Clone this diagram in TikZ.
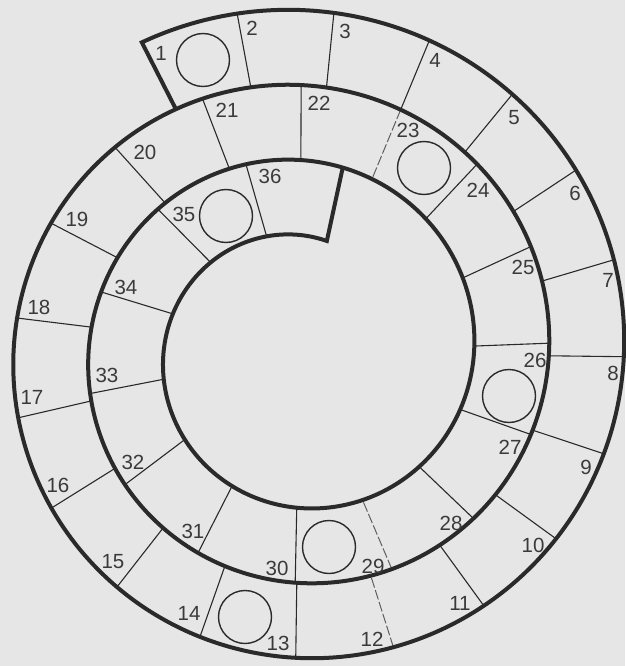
\documentclass[tikz,border=0pt]{standalone}
\usepackage{fontspec}
\setmainfont{Liberation Sans}
\definecolor{bg}{RGB}{230,230,231}
\definecolor{ink}{RGB}{42,42,42}
\definecolor{txt}{RGB}{58,58,58}
\begin{document}
\begin{tikzpicture}[x=1pt,y=-1pt,
  declare function={rr(\t)=342.75-0.2083333*\t; sx(\t)=300+rr(\t)*sin(\t); sy(\t)=352.75-rr(\t)*cos(\t);},
  thickline/.style={draw=ink, line width=4pt, line join=miter},
  divider/.style={draw=ink, line width=1.1pt},
  faint/.style={draw=ink!75, line width=1pt, dash pattern=on 10pt off 2.5pt},
  token/.style={circle, draw=ink, line width=1.4pt, minimum size=53pt, inner sep=0pt},
  lab/.style={text=txt, font=\fontsize{20.5}{20.5}\selectfont, inner sep=0pt}]
\fill[bg] (0,0) rectangle (625,666);
\useasboundingbox (0,0) rectangle (625,666);
% dividers
\foreach \a in {-10.5,5.7,22.5,39.4,56.5,73.5,90.7,108.4,126,144,180.8,199.4,218,238,257,277,297.5,318,339,360.25,403.2,425.3,447.8,469.5,493.7,541.2,567,593,619,647,675.3,704}
  \draw[divider] ({sx(\a)},{sy(\a)}) -- ({sx(\a+360)},{sy(\a+360)});
\foreach \a in {162.4,382.5,517}
  \draw[faint] ({sx(\a)},{sy(\a)}) -- ({sx(\a+360)},{sy(\a+360)});
% spiral with end caps
\draw[thickline] ({sx(333)},{sy(333)}) -- ({sx(-27)},{sy(-27)})
  -- plot[smooth, domain=-27:1093.5, samples=500, variable=\x] ({sx(\x)},{sy(\x)})
  -- ({sx(733)},{sy(733)});
% tokens
\node[token] (c1) at (203,60) {};
\node[token] (c23) at (424,168) {};
\node[token] (c26) at (509,396) {};
\node[token] (c29) at (329,547) {};
\node[token] (c13) at (245,617) {};
\node[token] (c35) at (226,216) {};
% labels
\node[lab] (n1) at (161,53) {1};
\node[lab] (n2) at (252,28) {2};
\node[lab] (n3) at (345,31) {3};
\node[lab] (n4) at (435,60) {4};
\node[lab] (n5) at (514,118) {5};
\node[lab] (n6) at (575,193) {6};
\node[lab] (n7) at (608,280) {7};
\node[lab] (n8) at (613,373) {8};
\node[lab] (n9) at (586,467) {9};
\node[lab] (n10) at (533,545) {10};
\node[lab] (n11) at (460,603) {11};
\node[lab] (n12) at (372,639) {12};
\node[lab] (n13) at (278,643) {13};
\node[lab] (n14) at (189,613) {14};
\node[lab] (n15) at (113,562) {15};
\node[lab] (n16) at (58,485) {16};
\node[lab] (n17) at (32,397) {17};
\node[lab] (n18) at (39,307) {18};
\node[lab] (n19) at (77,219) {19};
\node[lab] (n20) at (145,152) {20};
\node[lab] (n21) at (227,110) {21};
\node[lab] (n22) at (319,103) {22};
\node[lab] (n23) at (408,130) {23};
\node[lab] (n24) at (478,190) {24};
\node[lab] (n25) at (523,267) {25};
\node[lab] (n26) at (535,360) {26};
\node[lab] (n27) at (510,447) {27};
\node[lab] (n28) at (451,523) {28};
\node[lab] (n29) at (373,566) {29};
\node[lab] (n30) at (277,568) {30};
\node[lab] (n31) at (193,531) {31};
\node[lab] (n32) at (133,462) {32};
\node[lab] (n33) at (107,375) {33};
\node[lab] (n34) at (126,287) {34};
\node[lab] (n35) at (184,214) {35};
\node[lab] (n36) at (270,176) {36};
\end{tikzpicture}
\end{document}
